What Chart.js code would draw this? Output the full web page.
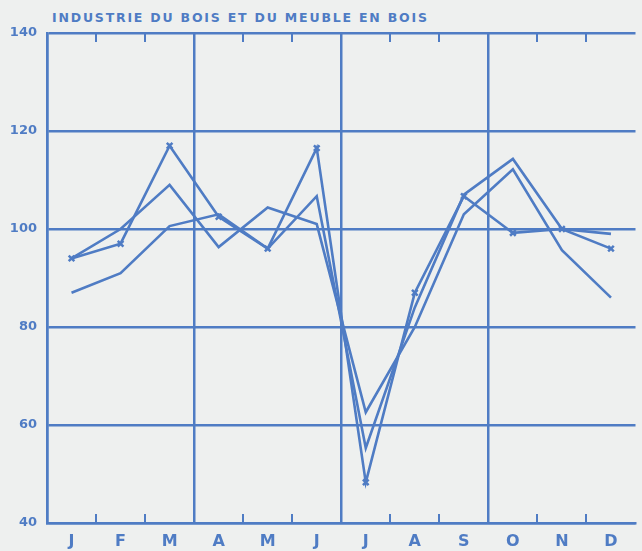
<!DOCTYPE html>
<html><head><meta charset="utf-8">
<script src="https://cdn.jsdelivr.net/npm/chart.js@4"></script>
<style>
html,body{margin:0;padding:0;background:#eef0ef;}
#wrap{position:relative;width:642px;height:551px;overflow:hidden;}
#title{position:absolute;left:52px;top:10px;font:bold 12.5px 'DejaVu Sans',sans-serif;letter-spacing:1.8px;color:#4f7cc4;white-space:nowrap;}
canvas{position:absolute;left:0;top:0;}
</style></head><body>
<div id="wrap"><div id="title">INDUSTRIE DU BOIS ET DU MEUBLE EN BOIS</div><canvas id="c" width="642" height="551"></canvas></div>
<script>
const months = ['J','F','M','A','M','J','J','A','S','O','N','D'];
const seriesA = [94, 97, 117, 102.5, 96, 116.5, 48.3, 87, 106.7, 99.2, 100, 96];
const seriesB = [87, 91, 100.6, 103, 96, 106.7, 55.3, 84, 107, 114.3, 100, 99];
const seriesC = [94, 100, 109, 96.3, 104.4, 101, 62.6, 80, 103, 112.2, 95.7, 86];
const yTicks = [40, 60, 80, 100, 120, 140];

const BLUE = '#4f7cc4';

const innerTicks = {
  id: 'innerTicks',
  beforeDatasetsDraw(chart) {
    const x = chart.scales.x, a = chart.chartArea, ctx = chart.ctx;
    ctx.save();
    ctx.strokeStyle = BLUE;
    ctx.lineWidth = 2;
    for (let i = 1; i < months.length; i++) {
      if (i % 3 === 0) continue;
      const px = Math.round(x.getPixelForValue(i - 0.5));
      ctx.beginPath();
      ctx.moveTo(px, a.top); ctx.lineTo(px, a.top + 9);
      ctx.moveTo(px, a.bottom); ctx.lineTo(px, a.bottom - 9);
      ctx.stroke();
    }
    ctx.restore();
  }
};

const line = (data, marker) => ({
  data,
  borderColor: BLUE,
  backgroundColor: BLUE,
  borderWidth: 2.6,
  tension: 0,
  fill: false,
  pointStyle: 'crossRot',
  pointRadius: marker ? 4 : 0,
  pointBorderWidth: 2.5,
  pointBorderColor: BLUE
});

new Chart(document.getElementById('c'), {
  type: 'line',
  data: {
    labels: months,
    datasets: [line(seriesB, false), line(seriesC, false), line(seriesA, true)]
  },
  options: {
    responsive: false,
    animation: false,
    layout: { padding: { top: 33, right: 6, left: 0, bottom: 0 } },
    plugins: { legend: { display: false }, tooltip: { enabled: false }, title: { display: false } },
    scales: {
      x: {
        type: 'category',
        offset: true,
        grid: {
          offset: true,
          drawTicks: false,
          lineWidth: 2.5,
          color: (c) => (c.index % 3 === 0 ? BLUE : 'rgba(0,0,0,0)')
        },
        border: { color: BLUE, width: 2.5 },
        ticks: { color: BLUE, padding: 9, font: { family: 'DejaVu Sans', size: 16, weight: 'bold' } },
        afterFit: (s) => { s.height = 28; }
      },
      y: {
        min: yTicks[0],
        max: yTicks[yTicks.length - 1],
        afterBuildTicks: (s) => { s.ticks = yTicks.map(v => ({ value: v })); },
        grid: { drawTicks: false, lineWidth: 2.5, color: BLUE },
        border: { color: BLUE, width: 2.5 },
        ticks: { color: BLUE, padding: 10, font: { family: 'DejaVu Sans', size: 13, weight: 'bold' } },
        afterFit: (s) => { s.width = 47; }
      }
    }
  },
  plugins: [innerTicks]
});
</script>
</body></html>
